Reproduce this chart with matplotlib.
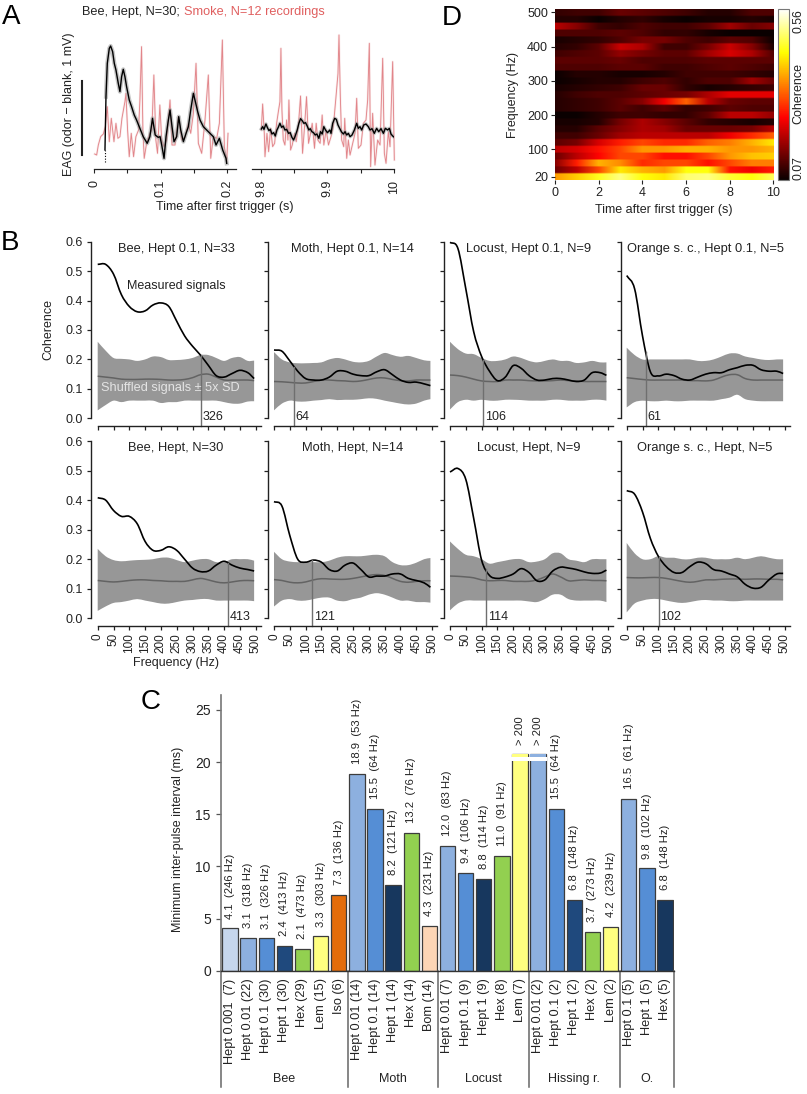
import numpy as np
import matplotlib
matplotlib.use("Agg")
import matplotlib.pyplot as plt
from matplotlib.path import Path
from matplotlib.patches import PathPatch

plt.rcParams['font.family'] = ['Liberation Sans', 'DejaVu Sans']
plt.rcParams['font.size'] = 9
NARROW = ['Liberation Sans Narrow', 'Liberation Sans']

W, H = 807.0, 1094.0

# --- panel A: EAG traces, time in ms, amplitude in units where 1 mV = 222
bee_left_t = [16.5,18,20,23,25,28,30.5,33,36.5,39,41.5,44,46.5,49,53,56.5,60.5,64,69,74,80,84,88,92,96.5,
              99.3,101.8,105.3,108.3,111.8,114.3,117.3,120.3,124.3,127.4,130.4,134.4,138.4,141.9,145.4,149.4,152.4,155.9,159.4,164.4,169.4,174.4,179.4,183.5,188.5,193.5,198.5,199.5]
bee_left_v = [57,217,317,362,369,352,317,297,257,232,277,299,277,247,207,187,162,147,122,97,77,97,152,102,95,
              97,72,32,97,147,177,127,82,97,157,117,82,107,127,177,227,202,172,147,127,117,107,97,72,92,57,32,17]
smoke_left_t = [1,4,6.5,10,14,17,20,23,26,30,33,36,39,42,46.5,48,50.5,53,56,59.5,63,67,69,71.5,73.5,75.5,79,84,87,90,93,95.5,99,
                101.8,105.3,109.3,114.3,117.3,121.8,126.9,131.9,136.9,141.9,145.4,149.4,153.4,156.9,161.9,166.9,171.9,175.5,179.4,184.5,188.5,193,196,199.5,201.5]
smoke_left_v = [45,42,72,97,105,127,187,82,152,82,137,92,97,152,202,227,117,37,107,37,97,117,207,367,117,32,77,107,117,282,87,47,192,
                87,67,87,207,72,72,157,87,97,137,107,167,317,77,47,147,282,32,97,92,137,387,67,22,107]
bee_right_t = [.5,2.5,4.5,7.5,9.5,12,14,16.5,19,21.5,24,26,28.5,31,33.5,36,38.5,41.5,44,46.5,49,51.5,54.5,57,59.5,62,64.5,67,69.5,72,74,76.5,79,81.5,84,87,89.5,92,94.5,97,100,103.5,
               105.3,107.8,110.8,113.3,115.8,118.3,120.8,123.9,126.4,128.9,131.4,133.9,136.9,140.4,143.9,146.4,148.9,151.4,154.4,157.9,161.4,163.9,166.9,170.4,173.9,177,180.5,184,187,190.5,193,195.5,198,200.5]
bee_right_v = [120,127,119,135,125,115,119,105,109,99,117,125,137,125,129,117,119,107,109,95,87,99,117,137,151,145,137,139,129,117,121,112,109,102,105,92,112,105,127,117,109,117,
               107,137,152,149,132,122,112,105,112,102,107,97,102,117,137,122,127,117,132,135,127,117,121,107,122,112,121,107,122,117,122,105,99,95]
smoke_right_t = [.5,2.5,5,6,9,11.5,14.5,17.5,20.5,23.5,26.5,28.5,30,31.5,33.5,36,38.5,40.5,42,44.5,47,50.5,53,56.5,59.5,62.5,65.5,68.5,71.5,74.5,77,80.5,83,85.5,89,92,94.5,98,101.5,
                 105.3,108.8,112.8,115.8,117.3,119.3,121.3,124.4,125.9,128.9,131.4,133.9,137.9,141.4,143.9,146.4,150.4,153.9,157.9,160.4,162.9,164.9,167.9,171.4,175.4,179,183,185.5,188,191.5,194,198,200.5]
smoke_right_v = [117,195,107,37,107,52,122,67,77,137,177,202,362,177,87,72,147,87,207,57,72,107,82,137,219,47,127,217,77,107,137,62,137,87,77,162,72,117,72,
                 97,127,217,287,402,217,87,67,152,32,87,42,77,107,212,62,72,137,147,207,377,7,167,12,87,72,332,47,17,112,67,322,27]

# --- panel D: coherence x 100, rows 20..500 Hz, columns 0..10 s
d_freqs = np.arange(20, 501, 20)
d_times = np.arange(0, 11)
d_coh = [
    [36,40,45,50,44,42,49,50,46,44,48],
    [14,20,30,42,38,36,44,44,26,24,27],
    [16,27,38,35,28,30,30,26,30,34,34],
    [14,20,25,30,30,26,26,30,36,39,40],
    [20,22,26,30,36,36,38,38,36,36,38],
    [13,15,22,27,30,28,28,32,34,38,42],
    [11,11,14,18,20,20,20,20,24,28,32],
    [9,9,13,16,19,18,14,14,14,15,20],
    [8,8,9,15,19,16,13,10,9,8,9],
    [7,7,9,11,11,10,10,13,20,20,17],
    [9,10,11,13,11,13,10,11,13,12,12],
    [9,10,11,13,16,24,32,20,14,13,13],
    [9,11,12,12,13,14,15,19,23,23,23],
    [8,9,10,11,14,14,10,8,9,10,11],
    [7,8,9,9,11,12,10,12,12,18,14],
    [7,9,9,8,8,9,11,11,11,10,9],
    [12,12,12,13,13,11,11,12,13,12,11],
    [13,13,13,14,12,12,12,13,13,13,13],
    [11,12,13,17,15,13,13,18,22,19,12],
    [9,10,13,21,19,11,11,15,21,16,8],
    [8,9,10,12,15,15,12,11,13,12,7],
    [12,12,12,13,12,10,10,8,7,7,7],
    [20,16,11,10,12,11,11,13,18,14,16],
    [9,9,7,9,10,8,7,8,8,9,8],
    [10,11,11,14,13,12,11,9,9,12,12],
]

# --- panel B: coherence spectra
freqs = [0,25,50,75,100,125,150,175,200,225,250,275,300,325,350,375,400,425,450,475,495]

bee01_meas = [.523,.523,.49,.42,.38,.362,.365,.385,.392,.38,.33,.28,.245,.215,.18,.145,.14,.152,.163,.155,.135]
bee01_up = [.26,.23,.205,.202,.20,.195,.20,.21,.208,.198,.198,.20,.205,.215,.215,.205,.195,.205,.208,.195,.196]
bee01_lo = [.027,.045,.06,.055,.06,.06,.06,.06,.052,.055,.055,.06,.06,.06,.06,.06,.055,.05,.05,.057,.058]
bee01_mean = [.143,.14,.137,.133,.132,.132,.133,.133,.132,.13,.13,.132,.138,.148,.15,.14,.13,.13,.13,.13,.128]

moth01_meas = [.232,.228,.195,.16,.135,.13,.13,.14,.16,.16,.15,.145,.145,.158,.165,.148,.13,.122,.123,.117,.111]
moth01_up = [.225,.2,.19,.187,.187,.188,.19,.2,.205,.2,.192,.19,.195,.21,.222,.215,.209,.212,.205,.197,.195]
moth01_lo = [.027,.05,.06,.057,.057,.06,.062,.065,.062,.063,.063,.065,.068,.066,.06,.055,.05,.047,.05,.06,.065]
moth01_mean = [.125,.124,.122,.12,.12,.125,.13,.13,.128,.127,.125,.127,.132,.137,.137,.132,.128,.127,.13,.13,.13]

locust01_meas = [.598,.577,.44,.294,.21,.16,.128,.14,.179,.17,.145,.13,.13,.135,.135,.13,.125,.13,.155,.155,.146]
locust01_up = [.26,.235,.22,.218,.205,.195,.195,.2,.21,.205,.195,.19,.195,.2,.195,.195,.188,.19,.195,.19,.19]
locust01_lo = [.03,.055,.063,.06,.063,.06,.06,.063,.063,.062,.06,.06,.06,.063,.063,.06,.06,.06,.063,.063,.06]
locust01_mean = [.147,.145,.14,.133,.127,.125,.125,.13,.13,.13,.128,.127,.127,.128,.13,.128,.127,.125,.125,.125,.125]

orange01_meas = [.485,.44,.28,.158,.144,.15,.145,.133,.13,.14,.15,.155,.155,.165,.172,.18,.18,.165,.16,.16,.152]
orange01_up = [.24,.215,.2,.2,.2,.2,.2,.2,.2,.195,.195,.2,.21,.22,.22,.21,.205,.2,.198,.2,.2]
orange01_lo = [.037,.055,.06,.058,.058,.06,.058,.058,.06,.06,.06,.06,.065,.07,.08,.065,.06,.058,.058,.058,.058]
orange01_mean = [.138,.135,.132,.13,.13,.13,.13,.13,.128,.128,.127,.13,.14,.148,.148,.135,.13,.13,.13,.13,.13]

bee1_meas = [.408,.4,.365,.345,.345,.32,.26,.23,.23,.242,.23,.2,.17,.158,.16,.18,.193,.18,.17,.165,.16]
bee1_up = [.235,.21,.197,.193,.195,.197,.198,.2,.205,.205,.197,.19,.195,.2,.2,.19,.19,.2,.2,.2,.195]
bee1_lo = [.025,.04,.052,.055,.06,.065,.06,.055,.05,.05,.055,.06,.062,.065,.065,.06,.06,.06,.06,.06,.058]
bee1_mean = [.128,.125,.123,.125,.128,.13,.13,.128,.127,.125,.125,.125,.13,.135,.13,.123,.12,.123,.127,.128,.127]

moth1_meas = [.395,.38,.28,.2,.19,.197,.19,.165,.16,.18,.187,.165,.14,.143,.143,.15,.15,.135,.128,.12,.105]
moth1_up = [.225,.2,.192,.19,.19,.19,.19,.195,.205,.21,.21,.21,.213,.215,.21,.19,.18,.18,.188,.2,.204]
moth1_lo = [.04,.06,.065,.06,.06,.065,.07,.07,.06,.058,.065,.07,.08,.085,.08,.07,.06,.06,.055,.055,.053]
moth1_mean = [.131,.128,.122,.12,.123,.13,.134,.133,.132,.132,.135,.14,.145,.148,.145,.135,.125,.122,.125,.127,.127]

locust1_meas = [.495,.507,.47,.338,.197,.145,.135,.14,.15,.168,.155,.127,.13,.16,.173,.17,.165,.157,.152,.153,.163]
locust1_up = [.26,.235,.215,.21,.2,.185,.19,.195,.2,.2,.19,.192,.2,.22,.22,.2,.195,.19,.2,.2,.2]
locust1_lo = [.027,.05,.06,.06,.06,.06,.06,.06,.06,.06,.057,.055,.065,.08,.08,.065,.06,.06,.06,.06,.055]
locust1_mean = [.143,.142,.14,.137,.13,.127,.128,.128,.125,.125,.125,.13,.14,.15,.14,.127,.128,.13,.128,.128,.127]

orange1_meas = [.432,.42,.36,.27,.21,.175,.155,.155,.175,.19,.185,.165,.16,.15,.14,.115,.102,.105,.13,.15,.152]
orange1_up = [.255,.22,.2,.2,.21,.205,.205,.2,.2,.205,.205,.2,.2,.2,.205,.2,.205,.21,.205,.2,.2]
orange1_lo = [.02,.05,.06,.065,.065,.06,.055,.052,.055,.06,.062,.06,.06,.058,.058,.06,.06,.06,.06,.06,.06]
orange1_mean = [.138,.137,.137,.138,.138,.135,.13,.125,.122,.125,.13,.13,.132,.133,.133,.132,.133,.133,.132,.132,.13]

b_titles = ["Bee, Hept 0.1, N=33", "Moth, Hept 0.1, N=14", "Locust, Hept 0.1, N=9", "Orange s. c., Hept 0.1, N=5",
            "Bee, Hept, N=30", "Moth, Hept, N=14", "Locust, Hept, N=9", "Orange s. c., Hept, N=5"]
b_cutoffs = [326, 64, 106, 61, 413, 121, 114, 102]
b_meas = [bee01_meas, moth01_meas, locust01_meas, orange01_meas, bee1_meas, moth1_meas, locust1_meas, orange1_meas]
b_up = [bee01_up, moth01_up, locust01_up, orange01_up, bee1_up, moth1_up, locust1_up, orange1_up]
b_lo = [bee01_lo, moth01_lo, locust01_lo, orange01_lo, bee1_lo, moth1_lo, locust1_lo, orange1_lo]
b_mean = [bee01_mean, moth01_mean, locust01_mean, orange01_mean, bee1_mean, moth1_mean, locust1_mean, orange1_mean]

# --- panel C: minimum inter-pulse interval
c_labels = ["Hept 0.001  (7)", "Hept 0.01 (22)", "Hept 0.1 (30)", "Hept 1 (30)", "Hex (29)", "Lem (15)", "Iso (6)",
            "Hept 0.01 (14)", "Hept 0.1 (14)", "Hept 1 (14)", "Hex (14)", "Bom (14)",
            "Hept 0.01 (7)", "Hept 0.1 (9)", "Hept 1 (9)", "Hex (8)", "Lem (7)",
            "Hept 0.01 (2)", "Hept 0.1 (2)", "Hept 1 (2)", "Hex (2)", "Lem (2)",
            "Hept 0.1 (5)", "Hept 1 (5)", "Hex (5)"]
c_values = [4.05, 3.15, 3.1, 2.4, 2.1, 3.3, 7.3, 18.9, 15.5, 8.2, 13.2, 4.3, 12.0, 9.4, 8.8, 11.0, 20.75,
            20.75, 15.5, 6.8, 3.7, 4.2, 16.5, 9.8, 6.8]
c_notes = ["4.1  (246 Hz)", "3.1  (318 Hz)", "3.1  (326 Hz)", "2.4  (413 Hz)", "2.1  (473 Hz)", "3.3  (303 Hz)", "7.3  (136 Hz)",
           "18.9  (53 Hz)", "15.5  (64 Hz)", "8.2  (121 Hz)", "13.2  (76 Hz)", "4.3  (231 Hz)",
           "12.0  (83 Hz)", "9.4  (106 Hz)", "8.8  (114 Hz)", "11.0  (91 Hz)", "> 200",
           "> 200", "15.5  (64 Hz)", "6.8  (148 Hz)", "3.7  (273 Hz)", "4.2  (239 Hz)",
           "16.5  (61 Hz)", "9.8  (102 Hz)", "6.8  (148 Hz)"]
c_colors = ['#c6d6ec', '#8db0df', '#558ed5', '#1f497d', '#92d050', '#ffff80', '#e36c0a',
            '#8db0df', '#558ed5', '#17375e', '#92d050', '#fcd5b5',
            '#8db0df', '#558ed5', '#17375e', '#92d050', '#ffff80',
            '#8db0df', '#558ed5', '#1f497d', '#92d050', '#ffff80',
            '#8db0df', '#558ed5', '#17375e']
c_groups = ["Bee", "Moth", "Locust", "Hissing r.", "O."]
c_group_edges = [-0.5, 6.5, 11.5, 16.5, 21.5, 24.5]
c_broken = [16, 17]


def axes_px(fig, x0, y0, x1, y1):
    """axes from pixel box, y measured from the top"""
    return fig.add_axes([x0/W, 1-y1/H, (x1-x0)/W, (y1-y0)/H])


def px_text(fig, x, y, s, **kw):
    kw.setdefault('ha', 'center')
    kw.setdefault('va', 'center')
    return fig.text(x/W, 1-y/H, s, **kw)


def curve_verts(x, y):
    """bezier segments passing through the read points (x, y)"""
    p = np.column_stack([x, y])
    tan = np.gradient(p, axis=0) / 3.0
    verts = [p[0]]
    for k in range(len(p)-1):
        verts += [p[k]+tan[k], p[k+1]-tan[k+1], p[k+1]]
    return verts


def curve_path(x, y):
    verts = curve_verts(x, y)
    return Path(verts, [Path.MOVETO] + [Path.CURVE4]*(len(verts)-1))


def band_path(x, lo, up):
    top = curve_verts(x, up)
    bot = curve_verts(x[::-1], lo[::-1])
    verts = top + bot + [top[0]]
    codes = [Path.MOVETO] + [Path.CURVE4]*(len(top)-1) + [Path.LINETO] + [Path.CURVE4]*(len(bot)-1) + [Path.CLOSEPOLY]
    return Path(verts, codes)


fig = plt.figure(figsize=(W/100, H/100), dpi=100)
DARK = '#222222'
SMOKE = '#e2858a'

for x, y, s in [(11, 17, 'A'), (10, 243, 'B'), (151, 702, 'C'), (452, 18, 'D')]:
    px_text(fig, x, y, s, fontsize=20, color='black')

# A
ax_l = axes_px(fig, 94, 29, 236, 169)
ax_r = axes_px(fig, 252, 29, 394, 169)
ax_l.set_xlim(0, 213.5)
ax_r.set_xlim(-13.5, 200)
for ax, ticks, labels in [(ax_l, [0, 50, 100, 150, 200], ['0', '', '0.1', '', '0.2']),
                          (ax_r, [0, 50, 100, 150, 200], ['9.8', '', '9.9', '', '10'])]:
    ax.set_ylim(0, 420)
    ax.set_yticks([])
    ax.patch.set_alpha(0)
    for s in ['top', 'right', 'left']:
        ax.spines[s].set_visible(False)
    ax.spines['bottom'].set_color(DARK)
    ax.spines['bottom'].set_linewidth(0.9)
    ax.set_xticks(ticks)
    ax.set_xticklabels(labels, rotation=90, fontsize=9, color=DARK)
    ax.tick_params(axis='x', length=3, width=0.8, pad=5, color=DARK)

for ax, t, v in [(ax_l, smoke_left_t, smoke_left_v), (ax_r, smoke_right_t, smoke_right_v)]:
    ax.plot(t, v, color=SMOKE, lw=1.6, alpha=0.18, clip_on=False)
    ax.plot(t, v, color=SMOKE, lw=0.65, clip_on=False)
ax_l.plot(bee_left_t[1:], bee_left_v[1:], color='#999999', lw=3.0, alpha=0.55, solid_joinstyle='round')
ax_r.plot(bee_right_t, bee_right_v, color='#999999', lw=2.6, alpha=0.5, solid_joinstyle='round')
ax_l.plot(bee_left_t, bee_left_v, color='black', lw=1.0)
ax_r.plot(bee_right_t, bee_right_v, color='black', lw=1.0)
ax_l.plot([bee_left_t[0], bee_left_t[0]], [22, bee_left_v[0]], color='black', lw=0.8, ls=(0, (1, 1.5)))
# 1 mV scale bar
ax_l.plot([-18.5, -18.5], [42, 264], color=DARK, lw=1.5, clip_on=False)

px_text(fig, 82, 12, "Bee, Hept, N=30;", ha='left', fontsize=9.15, color=DARK)
px_text(fig, 184, 12, "Smoke, N=12 recordings", ha='left', fontsize=9.15, color='#e05f5f')
px_text(fig, 69, 104, "EAG (odor \u2212 blank, 1 mV)", rotation=90, fontsize=9, color=DARK)
px_text(fig, 225, 207, "Time after first trigger (s)", fontsize=9, color=DARK)

# D
ax_d = axes_px(fig, 555, 9, 773.3, 180)
im = ax_d.imshow(np.repeat(np.array(d_coh)/100.0, 4, axis=0), origin='lower', aspect='auto',
                 cmap='hot', vmin=0.07, vmax=0.56, interpolation='bilinear',
                 extent=[d_times[0]-0.5, d_times[-1]+0.5, d_freqs[0]-10, d_freqs[-1]+10])
ax_d.set_xlim(0, 10)
ax_d.set_ylim(10, 510)
ax_d.set_xticks([0, 2, 4, 6, 8, 10])
ax_d.set_yticks([20, 100, 200, 300, 400, 500])
ax_d.tick_params(length=3, width=0.8, labelsize=9, pad=2, color=DARK, labelcolor=DARK)
for s in ax_d.spines.values():
    s.set_visible(False)
ax_d.set_ylabel("Frequency (Hz)", fontsize=9, labelpad=6, color=DARK)
ax_d.set_xlabel("Time after first trigger (s)", fontsize=9, labelpad=3.5, color=DARK)

cax = axes_px(fig, 777.7, 9, 789, 180)
cb = fig.colorbar(im, cax=cax)
cb.set_ticks([])
cb.outline.set_edgecolor('#777777')
cb.outline.set_linewidth(0.8)
px_text(fig, 798, 21, "0.56", rotation=90, fontsize=8.8, color=DARK)
px_text(fig, 798, 168, "0.07", rotation=90, fontsize=8.8, color=DARK)
px_text(fig, 798, 93, "Coherence", rotation=90, fontsize=9, color=DARK)

# B
col_left = [91, 267.7, 444, 620.7]
col_zero = [97.7, 274, 450, 626.7]
row_top = [241.7, 441]
row_bot = [418.3, 618.3]
scale = 0.316
for i in range(8):
    row, col = i // 4, i % 4
    right = col_zero[col] + 516*scale
    ax = axes_px(fig, col_left[col], row_top[row], right, row_bot[row])
    ax.set_xlim((col_left[col]-col_zero[col])/scale, 516)
    ax.set_ylim(0, 0.6)
    ax.add_patch(PathPatch(band_path(np.array(freqs, float), np.array(b_lo[i]), np.array(b_up[i])),
                           facecolor='#979797', edgecolor='none'))
    ax.add_patch(PathPatch(curve_path(freqs, b_mean[i]), fill=False, edgecolor='#636363', lw=1.1))
    cut = b_cutoffs[i]
    ax.plot([cut, cut], [-0.025, np.interp(cut, freqs, b_meas[i])], color='#6f6f6f', lw=1.0, clip_on=False)
    ax.add_patch(PathPatch(curve_path(freqs, b_meas[i]), fill=False, edgecolor='black', lw=1.2, clip_on=False))
    ax.text(cut+5, 0.006, str(cut), fontsize=9, ha='left', va='center', color=DARK)
    ax.text(248, 0.576, b_titles[i], fontsize=9.25, ha='center', va='center', color=DARK)
    for s in ['top', 'right']:
        ax.spines[s].set_visible(False)
    ax.spines['bottom'].set_position(('outward', 5.3))
    ax.spines['bottom'].set_bounds(0, 516)
    ax.spines['left'].set_bounds(0, 0.6)
    for s in ['bottom', 'left']:
        ax.spines[s].set_color(DARK)
        ax.spines[s].set_linewidth(1.0)
    ax.patch.set_alpha(0)
    ax.set_xticks(range(0, 501, 50))
    ax.set_yticks(np.arange(0, 0.61, 0.1))
    ax.tick_params(axis='both', length=3.2, width=0.9, color=DARK, labelcolor=DARK)
    ax.tick_params(axis='y', labelsize=9, pad=3, labelleft=(col == 0))
    ax.tick_params(axis='x', labelbottom=(row == 1), pad=2)
    if row == 1:
        for t in ax.get_xticklabels():
            t.set_rotation(90)
            t.set_fontfamily(NARROW)
            t.set_fontsize(8.5)
    if i == 0:
        ax.text(248, 0.45, "Measured signals", fontsize=9, ha='center', va='center', color=DARK)
        ax.text(230, 0.102, "Shuffled signals \u00b1 5x SD", fontsize=9.2, ha='center', va='center', color='#e4e4e4')

px_text(fig, 48, 330, "Coherence", rotation=90, fontsize=9, color=DARK)
px_text(fig, 176, 663, "Frequency (Hz)", fontsize=9, color=DARK)

# C
ax_c = axes_px(fig, 221, 695, 674, 970.7)
x = np.arange(len(c_values))
ax_c.bar(x, c_values, width=0.85, color=c_colors, edgecolor='#3c3c3c', linewidth=0.9, zorder=2)
for b in c_broken:
    ax_c.bar(b, 0.32, bottom=20.12, width=1.0, color='white', lw=0, zorder=3)
    ax_c.bar(b, c_values[b]-20.44, bottom=20.44, width=0.85, color=c_colors[b], lw=0, zorder=4)
for i, note in enumerate(c_notes):
    ax_c.annotate(note, (x[i], c_values[i]), xytext=(0, 7), textcoords='offset points',
                  rotation=90, ha='center', va='bottom', fontsize=8.1, family=NARROW, color=DARK, annotation_clip=False)
    ax_c.annotate(c_labels[i], (x[i], 0), xytext=(0, -5.5), textcoords='offset points',
                  rotation=90, ha='center', va='top', fontsize=9.2, family=NARROW, color=DARK, annotation_clip=False)
ax_c.set_xlim(-0.497, 24.5)
ax_c.set_ylim(0, 26.43)
ax_c.set_xticks([])
ax_c.set_yticks(range(0, 26, 5))
ax_c.tick_params(axis='y', length=3.8, width=0.9, labelsize=10, pad=3.5, color='#555555', labelcolor=DARK)
ax_c.patch.set_alpha(0)
for s in ['top', 'right']:
    ax_c.spines[s].set_visible(False)
ax_c.spines['left'].set_color('#777777')
ax_c.spines['left'].set_linewidth(1.2)
ax_c.spines['bottom'].set_color('#333333')
ax_c.spines['bottom'].set_linewidth(1.0)
for e in c_group_edges:
    ax_c.plot([e, e], [-11.15, 0], color='#666666', lw=1.1, clip_on=False)
for g, (a, b) in zip(c_groups, zip(c_group_edges[:-1], c_group_edges[1:])):
    ax_c.text((a+b)/2, -10.35, g, ha='center', va='center', fontsize=9, color=DARK)
px_text(fig, 178, 839, "Minimum inter-pulse interval (ms)", rotation=90, fontsize=9, color=DARK)

fig.savefig("out.png", dpi=100)
